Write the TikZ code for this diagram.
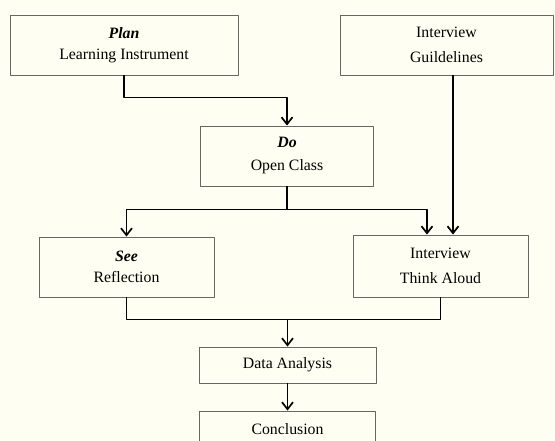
\documentclass[tikz,border=0pt]{standalone}
\usepackage{fontspec}
\setmainfont{Liberation Serif}
\usetikzlibrary{arrows.meta}
\begin{document}
\begin{tikzpicture}[x=1pt,y=-1pt,>={Straight Barb[length=7pt,width=11pt]},line join=round,
	font=\fontsize{15.8}{21}\selectfont,
	box/.style={draw=black!60,line width=0.9pt,rectangle,align=center,inner sep=0pt},
	flow/.style={->,line width=1.7pt}]
	\fill[yellow!5] (0,0) rectangle (555,441);
	\useasboundingbox (0,0) rectangle (555,441);
	\node[box,minimum width=228pt,minimum height=60pt] (plan) at (124,45) {\textbf{\textit{Plan}}\\Learning Instrument};
	\node[box,minimum width=213pt,minimum height=60pt,font=\fontsize{15.8}{25}\selectfont] (guide) at (446.5,45) {Interview\\Guildelines};
	\node[box,minimum width=173pt,minimum height=60pt,font=\fontsize{15.8}{23}\selectfont] (do) at (287,156) {\textbf{\textit{Do}}\\Open Class};
	\node[box,minimum width=175pt,minimum height=60pt] (see) at (126.5,267) {\textbf{\textit{See}}\\Reflection};
	\node[box,minimum width=175pt,minimum height=62pt,font=\fontsize{15.8}{25}\selectfont] (think) at (440.5,266) {Interview\\Think Aloud};
	\node[box,minimum width=177pt,minimum height=36pt] (data) at (287.5,365) {Data Analysis};
	\node[box,minimum width=176pt,minimum height=36pt] (concl) at (287.5,429) {Conclusion};
	\coordinate (merge) at (287.5,319);
	\draw[flow] (plan.south) -- ++(0,22) -| (do.north);
	\draw[flow] (do.south) -- ++(0,23) -| (see.north);
	\draw[flow] (do.south) -- ++(0,23) -| ([xshift=-13.5pt]think.north);
	\draw[flow] ([xshift=6.5pt]guide.south) -- ([xshift=12.5pt]think.north);
	\draw[line width=1.7pt] (see.south) -- ++(0,22) -| (think.south);
	\draw[flow] (merge) -- (data.north);
	\draw[flow] (data.south) -- (concl.north);
\end{tikzpicture}
\end{document}
